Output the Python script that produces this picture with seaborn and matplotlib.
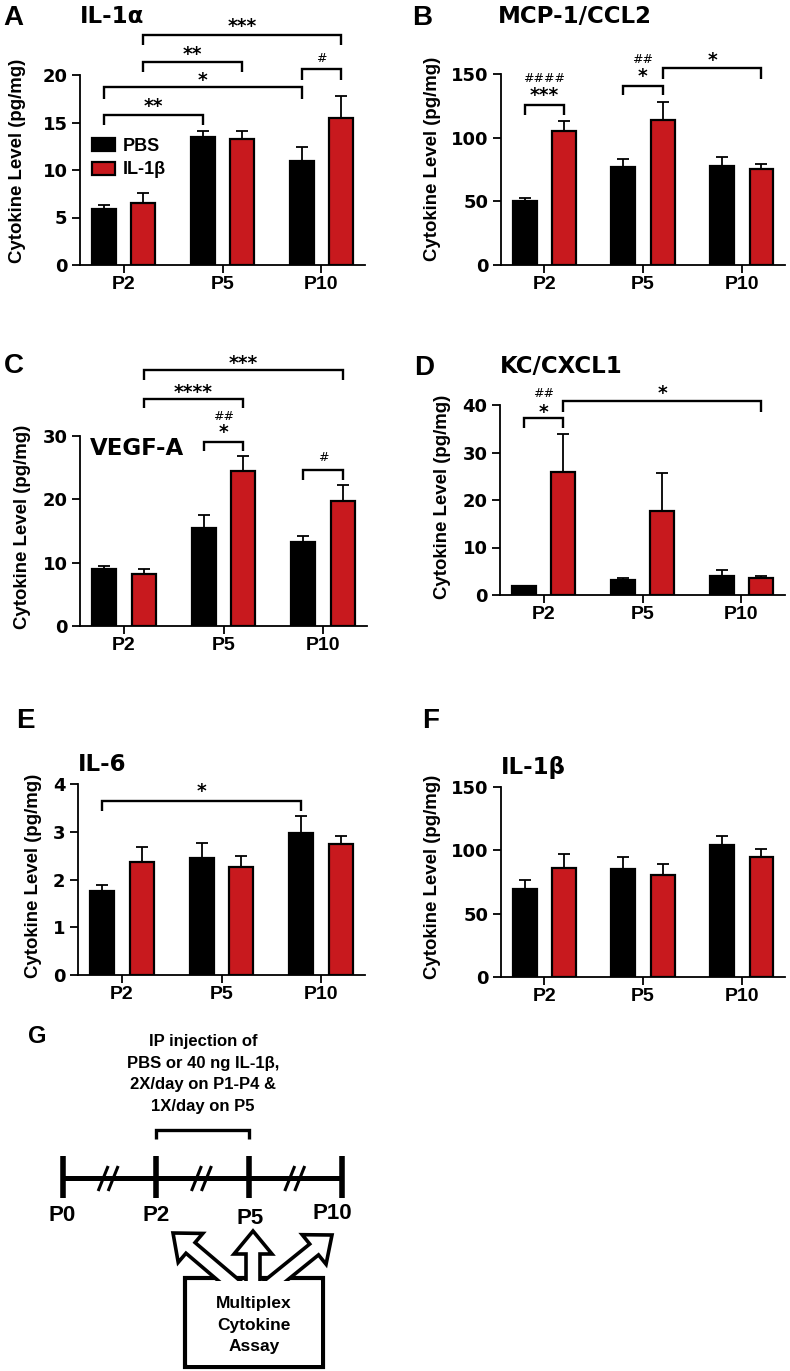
import numpy as np
import pandas as pd
import matplotlib
matplotlib.use("Agg")
import matplotlib.pyplot as plt
import seaborn as sns
from matplotlib.patches import Rectangle, FancyArrow
from matplotlib.font_manager import FontProperties

# ---------------- data ----------------
days = ["P2", "P5", "P10"]
groups = ["PBS", "IL-1β"]

il1a_pbs = [5.85, 13.45, 11.0]
il1a_pbs_sem = [0.45, 0.65, 1.45]
il1a_il = [6.55, 13.25, 15.5]
il1a_il_sem = [1.05, 0.85, 2.3]

mcp1_pbs = [50.3, 77.2, 78.0]
mcp1_pbs_sem = [2.6, 6.0, 6.8]
mcp1_il = [105.2, 113.6, 75.4]
mcp1_il_sem = [8.2, 14.7, 3.7]

vegf_pbs = [8.95, 15.4, 13.2]
vegf_pbs_sem = [0.55, 2.1, 1.0]
vegf_il = [8.2, 24.4, 19.7]
vegf_il_sem = [0.85, 2.4, 2.6]

kc_pbs = [1.8, 3.1, 4.1]
kc_pbs_sem = [0.2, 0.5, 1.1]
kc_il = [26.0, 17.7, 3.5]
kc_il_sem = [7.9, 7.9, 0.5]

il6_pbs = [1.75, 2.46, 2.97]
il6_pbs_sem = [0.14, 0.30, 0.37]
il6_il = [2.36, 2.27, 2.74]
il6_il_sem = [0.33, 0.23, 0.18]

il1b_pbs = [69.5, 85.3, 103.9]
il1b_pbs_sem = [6.8, 9.4, 7.7]
il1b_il = [86.3, 80.5, 94.7]
il1b_il_sem = [11.1, 8.4, 6.1]

yticks_a = [0, 5, 10, 15, 20]
yticks_b = [0, 50, 100, 150]
yticks_c = [0, 10, 20, 30]
yticks_d = [0, 10, 20, 30, 40]
yticks_e = [0, 1, 2, 3, 4]
yticks_f = [0, 50, 100, 150]

timeline_days = ["P0", "P2", "P5", "P10"]
injection_text = ["IP injection of", "PBS or 40 ng IL-1β,", "2X/day on P1-P4 &", "1X/day on P5"]
assay_text = ["Multiplex", "Cytokine", "Assay"]

# significance annotations: (day1, group1, day2, group2, y_bar, y_leg, label, label_y, sub_label, sub_y)
sig_a = [("P2", 0, "P5", 0, 15.8, 14.7, "**", 17.2, None, None),
         ("P2", 0, "P10", 0, 18.7, 17.5, "*", 20.0, None, None),
         ("P10", 0, "P10", 1, 20.6, 19.5, "#", 21.9, None, None),
         ("P2", 1, "P5", 1, 21.4, 20.35, "**", 22.7, None, None),
         ("P2", 1, "P10", 1, 24.2, 23.15, "***", 25.6, None, None)]
sig_b = [("P2", 0, "P2", 1, 125.4, 117.8, "***", 137.0, "####", 147.4),
         ("P5", 0, "P5", 1, 140.8, 133.2, "*", 151.8, "##", 162.3),
         ("P5", 1, "P10", 1, 155.0, 146.3, "*", 165.0, None, None)]
sig_c = [("P10", 0, "P10", 1, 24.6, 23.05, "#", 26.7, None, None),
         ("P5", 0, "P5", 1, 29.1, 27.7, "*", 31.3, "##", 33.3),
         ("P2", 1, "P5", 1, 35.9, 34.4, "****", 37.7, None, None),
         ("P2", 1, "P10", 1, 40.5, 38.8, "***", 42.3, None, None)]
sig_d = [("P2", 0, "P2", 1, 37.2, 35.2, "*", 39.6, "##", 42.7),
         ("P2", 1, "P10", 1, 40.8, 38.6, "*", 43.5, None, None)]
sig_e = [("P2", 0, "P10", 0, 3.65, 3.44, "*", 3.95, None, None)]

# ---------------- style ----------------
sns.set_style("ticks")
plt.rcParams["font.family"] = ["Liberation Sans", "DejaVu Sans"]
plt.rcParams["axes.linewidth"] = 1.3
for key in ["text.color", "axes.labelcolor", "xtick.color", "ytick.color", "axes.edgecolor",
            "xtick.labelcolor", "ytick.labelcolor"]:
    plt.rcParams[key] = "black"

W, H = 790, 1371
BLACK = "#000000"
RED = "#C8191E"
fig = plt.figure(figsize=(W / 100, H / 100), dpi=100)
fig.patch.set_facecolor("white")


def add_ax(l, t, r, b):
    return fig.add_axes([l / W, 1 - b / H, (r - l) / W, (b - t) / H])


def ftext(x, y, s, size, family="Liberation Sans", ha="center", weight="bold", cap=0.716):
    # y is the visual centre of capitals (pixels from top)
    base = y + cap / 2 * size * 100 / 72
    fig.text(x / W, 1 - base / H, s, fontsize=size, family=family, weight=weight,
             ha=ha, va="baseline", color="black")


def panel(box, pbs, pbs_sem, il, il_sem, yticks, ylab_xy, sigs, legend=False):
    ax = add_ax(*box)
    ax.set_facecolor("none")
    df = pd.DataFrame({"day": days * 2,
                       "group": [groups[0]] * 3 + [groups[1]] * 3,
                       "value": list(pbs) + list(il)})
    sns.barplot(data=df, x="day", y="value", hue="group", order=days, hue_order=groups,
                palette=[BLACK, RED], saturation=1, width=0.8, gap=0.4,
                edgecolor="black", linewidth=1.6, errorbar=None, ax=ax,
                legend=legend, zorder=2)
    centers = {}
    bar_conts = list(ax.containers[:2])
    for gi, (cont, sems) in enumerate(zip(bar_conts, [pbs_sem, il_sem])):
        xs = [p.get_x() + p.get_width() / 2 for p in cont]
        hs = [p.get_height() for p in cont]
        ax.errorbar(xs, hs, yerr=[np.zeros(len(sems)), sems], fmt="none", ecolor="black",
                    elinewidth=1.3, capsize=4.5, capthick=1.3, zorder=1.5)
        for d, x in zip(days, xs):
            centers[(d, gi)] = x
    sns.despine(ax=ax)
    ax.set_xlim(-0.44, 2.44)
    ax.set_ylim(0, yticks[-1])
    ax.set_yticks(yticks)
    ax.set_yticklabels([str(t) for t in yticks])
    ax.set_xlabel("")
    ax.set_ylabel("Cytokine Level (pg/mg)", fontsize=13.4, fontweight="bold",
                  family="Liberation Sans", color="black")
    ax.yaxis.set_label_coords(*ylab_xy)
    ax.tick_params(axis="both", width=1.3, length=6, direction="out", colors="black")
    ax.tick_params(axis="x", labelsize=14, pad=2)
    ax.tick_params(axis="y", labelsize=13, pad=3)
    for lab in ax.get_yticklabels():
        lab.set_fontfamily("DejaVu Sans")
        lab.set_fontweight("bold")
    for lab in ax.get_xticklabels():
        lab.set_fontfamily("Liberation Sans")
        lab.set_fontweight("bold")
    for (d1, g1, d2, g2, yb, yl, lab, ly, sub, sy) in sigs:
        x1, x2 = centers[(d1, g1)], centers[(d2, g2)]
        ax.plot([x1, x1, x2, x2], [yl, yb, yb, yl], color="black", lw=1.7,
                clip_on=False, solid_joinstyle="miter", solid_capstyle="butt")
        xm = (x1 + x2) / 2
        if lab.startswith("#"):
            ax.annotate(lab, xy=(xm, ly), xytext=(0, -3.3), textcoords="offset points",
                        ha="center", va="baseline", fontsize=9, family="DejaVu Sans",
                        color="black", annotation_clip=False)
        else:
            ax.annotate(lab, xy=(xm, ly), xytext=(0, -7.7), textcoords="offset points",
                        ha="center", va="baseline", fontsize=13.5, family="DejaVu Sans",
                        fontweight="bold", color="black", annotation_clip=False)
        if sub is not None:
            ax.annotate(sub, xy=(xm, sy), xytext=(0, -3.3), textcoords="offset points",
                        ha="center", va="baseline", fontsize=9, family="DejaVu Sans",
                        color="black", annotation_clip=False)
    if legend:
        handles, labels = ax.get_legend_handles_labels()
        for h in handles:
            h.set_edgecolor("black")
            h.set_linewidth(1.6)
        leg = ax.legend(handles, labels, loc="upper left", bbox_to_anchor=(0.042, 0.668),
                        frameon=False, borderpad=0, borderaxespad=0, handlelength=1.28,
                        handleheight=0.72, handletextpad=0.4, labelspacing=0.35,
                        prop=FontProperties(family="Liberation Sans", weight="bold", size=13))
        for t in leg.get_texts():
            t.set_color("black")
    return ax


panel((80, 75, 365, 265), il1a_pbs, il1a_pbs_sem, il1a_il, il1a_il_sem, yticks_a,
      (-0.19, 0.55), sig_a, legend=True)
panel((501, 74, 785, 265), mcp1_pbs, mcp1_pbs_sem, mcp1_il, mcp1_il_sem, yticks_b,
      (-0.21, 0.555), sig_b)
panel((80, 436, 367, 626), vegf_pbs, vegf_pbs_sem, vegf_il, vegf_il_sem, yticks_c,
      (-0.17, 0.52), sig_c)
panel((500, 405, 785, 595), kc_pbs, kc_pbs_sem, kc_il, kc_il_sem, yticks_d,
      (-0.172, 0.516), sig_d)
panel((78, 784, 365, 975), il6_pbs, il6_pbs_sem, il6_il, il6_il_sem, yticks_e,
      (-0.125, 0.518), sig_e)
panel((501, 787, 785, 977), il1b_pbs, il1b_pbs_sem, il1b_il, il1b_il_sem, yticks_f,
      (-0.21, 0.526), [])

# panel letters
for letter, x, y, s in [("A", 13, 15, 20), ("B", 422, 15, 20), ("C", 14, 363, 20),
                        ("D", 424, 365, 20), ("E", 25, 718, 20), ("F", 431, 718, 20),
                        ("G", 37, 1035, 17)]:
    ftext(x, y, letter, s)

# titles
for title, x, y in [("IL-1α", 80, 15), ("MCP-1/CCL2", 498, 15), ("VEGF-A", 90, 447),
                    ("KC/CXCL1", 500, 365), ("IL-6", 78, 763), ("IL-1β", 501, 766)]:
    ftext(x, y, title, 16.5, family="DejaVu Sans", ha="left", cap=0.729)

# ---------------- panel G schematic ----------------
gx = fig.add_axes([0, 0, 420 / W, (H - 1010) / H])
gx.set_xlim(0, 420)
gx.set_ylim(H, 1010)
gx.axis("off")

tl_x0, tl_step, tl_y = 62.5, 93.3, 1178
tl_x = [tl_x0 + i * tl_step for i in range(len(timeline_days))]
gx.plot([tl_x[0], tl_x[-1]], [tl_y, tl_y], color="black", lw=3.6, solid_capstyle="butt")
gx.vlines(tl_x, 1156, 1198, color="black", lw=4)
for i in range(len(tl_x) - 1):
    c = (tl_x[i] + tl_x[i + 1]) / 2
    for off in (-5, 5):
        gx.plot([c + off - 6, c + off + 4], [1191, 1166], color="black", lw=2.2,
                solid_capstyle="butt")
label_y = [1213, 1213, 1216, 1211]
label_dx = [0, 0, 1, -10]
for d, x, y, dx in zip(timeline_days, tl_x, label_y, label_dx):
    ftext(x + dx, y, d, 16)

# injection bracket
gx.plot([tl_x[1], tl_x[1], tl_x[2], tl_x[2]], [1139, 1130, 1130, 1139], color="black",
        lw=2.4, solid_joinstyle="miter", solid_capstyle="butt")
for s, y in zip(injection_text, [1040, 1062, 1083, 1105]):
    ftext(203, y, s, 12)

# assay box with arrows
gx.add_patch(Rectangle((185, 1278), 138, 89, fc="white", ec="black", lw=3, zorder=2))
for (sx, sy, ex, ey) in [(240, 1290, 173, 1233), (253, 1292, 253, 1231), (264, 1290, 332, 1235)]:
    gx.add_patch(FancyArrow(sx, sy, ex - sx, ey - sy, width=14, head_width=38,
                            head_length=23, length_includes_head=True, fc="white",
                            ec="black", lw=2.6, zorder=3, joinstyle="miter"))
gx.add_patch(Rectangle((187.5, 1280.5), 133, 84, fc="white", ec="none", zorder=4))
for s, y in zip(assay_text, [1302, 1324, 1345]):
    ftext(254, y, s, 12.5)

fig.savefig("out.png", dpi=100, facecolor="white")
